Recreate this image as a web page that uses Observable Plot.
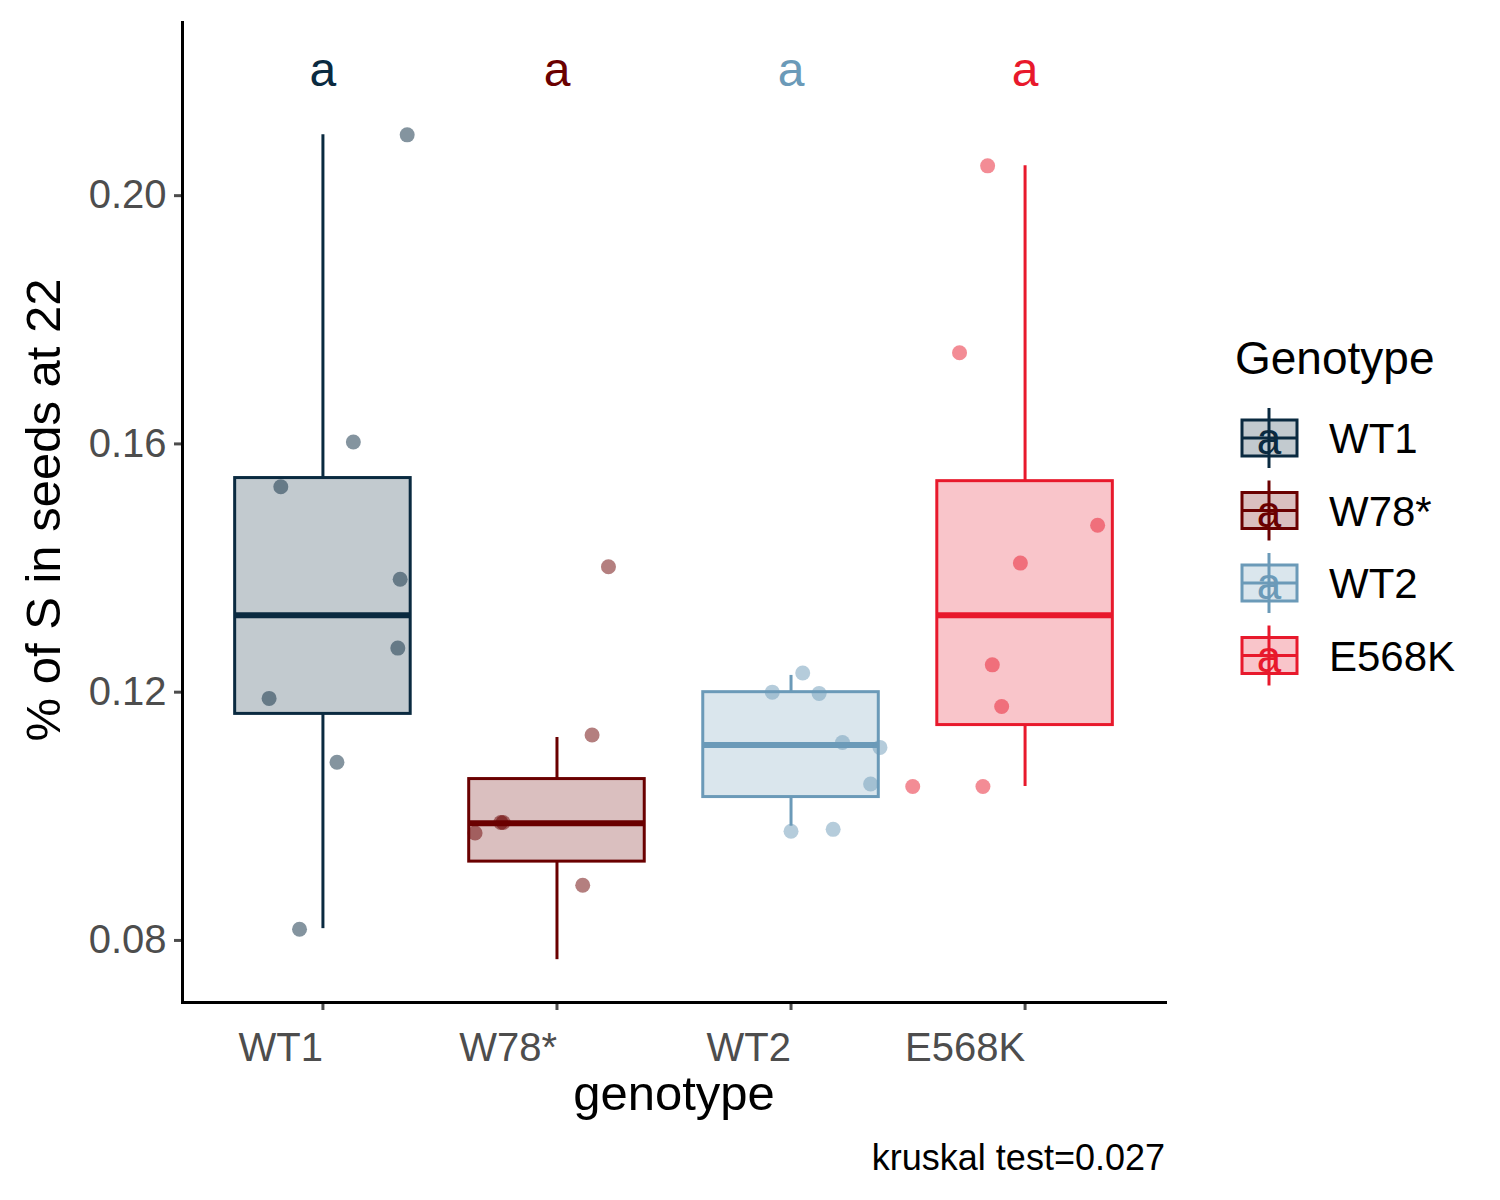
<!DOCTYPE html>
<html><head><meta charset="utf-8">
<script src="https://cdn.jsdelivr.net/npm/d3@7"></script>
<script src="https://cdn.jsdelivr.net/npm/@observablehq/plot@0.6"></script>
<style>
body{margin:0;background:#fff;font-family:"Liberation Sans",Arial,sans-serif;}
#wrap{position:relative;width:1500px;height:1200px;}
</style></head><body><div id="wrap"></div>
<script>
const genotypes = ["WT1","W78*","WT2","E568K"];
const colors = ["#0a2a40","#6a0000","#6b9ab8","#e8192c"];
const letters = ["a","a","a","a"];
// box stats: lower whisker, q1, median, q3, upper whisker
const whiskLo = [0.0819,0.0769,0.0984,0.1048];
const q1 = [0.1165,0.0927,0.1031,0.1147];
const med = [0.1324,0.0989,0.1115,0.1324];
const q3 = [0.1545,0.1060,0.1200,0.1540];
const whiskHi = [0.2098,0.1127,0.1227,0.2048];
// jittered points: group index, jittered x position (in category units), value
const ptGroup = [0,0,0,0,0,0,0,0, 1,1,1,1,1,1, 2,2,2,2,2,2,2,2, 3,3,3,3,3,3,3,3];
const ptX = [1.36,1.13,0.82,1.33,1.32,0.77,1.06,0.90, 2.22,2.15,1.65,1.76,1.77,2.11, 3.05,2.92,3.12,3.22,3.38,3.34,3.00,3.18, 3.84,3.72,4.31,3.98,3.86,3.90,3.52,3.82];
const ptY = [0.2098,0.1603,0.1531,0.1382,0.1271,0.1190,0.1087,0.0818, 0.1402,0.1131,0.0973,0.0990,0.0990,0.0889, 0.1231,0.1200,0.1198,0.1119,0.1111,0.1052,0.0976,0.0979, 0.2048,0.1747,0.1469,0.1408,0.1244,0.1177,0.1048,0.1048];
const letterY = 0.2202;

const boxes = genotypes.map((g,i)=>({i:i+1,g,c:colors[i],lo:whiskLo[i],q1:q1[i],med:med[i],q3:q3[i],hi:whiskHi[i]}));
const pts = ptX.map((x,k)=>({x,y:ptY[k],c:colors[ptGroup[k]]}));
const hw = 0.375;

const plot = Plot.plot({
  width:1500,height:1200,marginLeft:182,marginRight:335,marginTop:22,marginBottom:198,
  style:{fontFamily:"Liberation Sans, Arial, sans-serif",background:"transparent"},
  x:{domain:[0.4,4.6],axis:null},
  y:{domain:[0.07,0.2279],axis:null},
  marks:[
    Plot.ruleX(boxes,{x:"i",y1:"lo",y2:"q1",stroke:"c",strokeWidth:3}),
    Plot.ruleX(boxes,{x:"i",y1:"q3",y2:"hi",stroke:"c",strokeWidth:3}),
    Plot.rect(boxes,{x1:d=>d.i-hw,x2:d=>d.i+hw,y1:"q1",y2:"q3",fill:"c",fillOpacity:0.25,stroke:"c",strokeWidth:3}),
    Plot.ruleY(boxes,{y:"med",x1:d=>d.i-hw,x2:d=>d.i+hw,stroke:"c",strokeWidth:6}),
    Plot.dot(pts,{x:"x",y:"y",fill:"c",fillOpacity:0.5,r:7.5}),
    Plot.text(boxes,{x:"i",y:()=>letterY,text:(d,k)=>letters[k],fill:"c",fontSize:48}),
    Plot.axisY({ticks:[0.08,0.12,0.16,0.20],tickFormat:d=>d.toFixed(2),fontSize:40,tickSize:8,tickPadding:8,strokeWidth:3,color:"#4d4d4d",label:null}),
    Plot.axisX({ticks:[1,2,3,4],tickFormat:d=>genotypes[d-1],fontSize:40,tickSize:8,tickPadding:22,textAnchor:"end",strokeWidth:3,color:"#4d4d4d",label:null}),
    Plot.frame({anchor:"left",stroke:"#000",strokeWidth:3}),
    Plot.frame({anchor:"bottom",stroke:"#000",strokeWidth:3}),
  ]
});
const wrap = document.getElementById("wrap");
wrap.appendChild(plot);
const svg = d3.select(plot);
svg.append("text").attr("x",674).attr("y",1110).attr("text-anchor","middle").attr("font-size",49).attr("fill","#000").text("genotype");
svg.append("text").attr("transform","translate(60,510) rotate(-90)").attr("text-anchor","middle").attr("font-size",49).attr("fill","#000").text("% of S in seeds at 22");
svg.append("text").attr("x",1165).attr("y",1170).attr("text-anchor","end").attr("font-size",36).attr("fill","#000").text("kruskal test=0.027");
// legend
svg.append("text").attr("x",1235).attr("y",374).attr("text-anchor","start").attr("font-size",46).attr("fill","#000").text("Genotype");
genotypes.forEach((g,i)=>{
  const cy = 438 + i*72.5, c = colors[i], x0 = 1242;
  svg.append("line").attr("x1",x0+27).attr("x2",x0+27).attr("y1",cy-30).attr("y2",cy+30).attr("stroke",c).attr("stroke-width",3);
  svg.append("rect").attr("x",x0).attr("y",cy-18).attr("width",55).attr("height",36).attr("fill",c).attr("fill-opacity",0.25).attr("stroke",c).attr("stroke-width",3);
  svg.append("line").attr("x1",x0).attr("x2",x0+55).attr("y1",cy).attr("y2",cy).attr("stroke",c).attr("stroke-width",3);
  svg.append("text").attr("x",x0+27).attr("y",cy+16).attr("text-anchor","middle").attr("font-size",44).attr("fill",c).text("a");
  svg.append("text").attr("x",1329).attr("y",cy+15).attr("text-anchor","start").attr("font-size",42).attr("fill","#000").text(g);
});
</script></body></html>
